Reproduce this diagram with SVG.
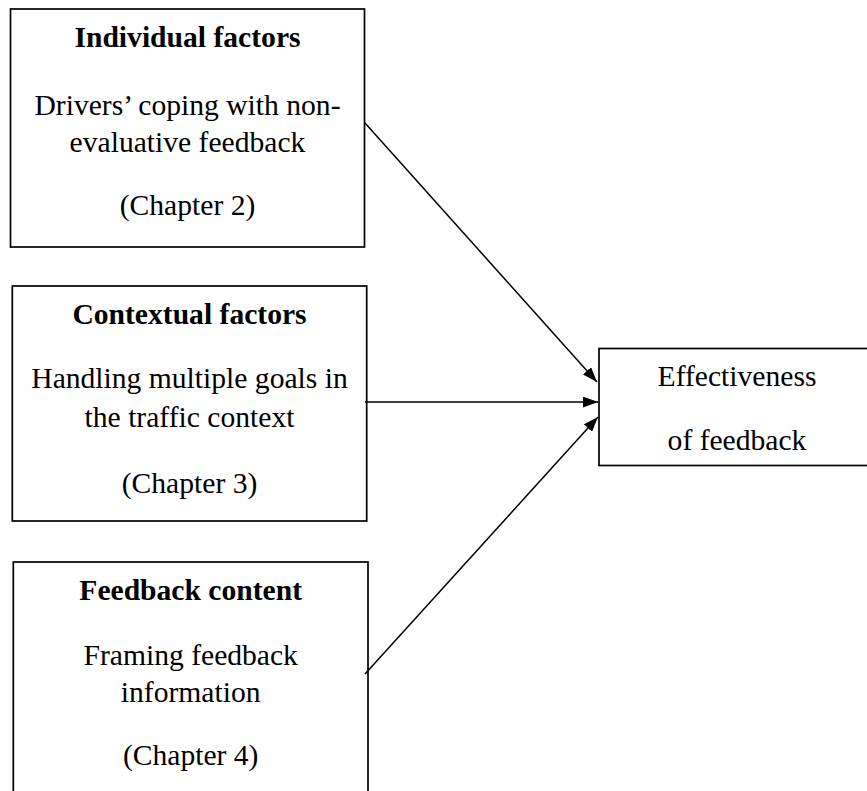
<svg xmlns="http://www.w3.org/2000/svg" width="867" height="791" viewBox="0 0 867 791">
<style>
.box{fill:#fff;stroke:#000;stroke-width:1.7}
.t{font-family:"Liberation Serif","Times New Roman",serif;font-size:29.6px;fill:#000;text-anchor:middle}
.b{font-weight:bold}
.c{stroke:#000;stroke-width:1.5;fill:none}
</style>
<defs>
<marker id="ah" viewBox="0 0 15 11" refX="15" refY="5.5" markerWidth="15" markerHeight="11" markerUnits="userSpaceOnUse" orient="auto">
<path d="M0,0 L15,5.5 L0,11 Z" fill="#000"/>
</marker>
</defs>
<rect width="867" height="791" fill="#fff"/>
<g id="n1">
<rect class="box" x="10.5" y="9" width="354" height="238"/>
<text class="t b" x="187.5" y="47">Individual factors</text>
<text class="t" x="187.5" y="115">Drivers’ coping with non-</text>
<text class="t" x="187.5" y="152">evaluative feedback</text>
<text class="t" x="187.5" y="215">(Chapter 2)</text>
</g>
<g id="n2">
<rect class="box" x="12.3" y="286" width="354.4" height="235"/>
<text class="t b" x="189.5" y="324">Contextual factors</text>
<text class="t" x="189.5" y="388">Handling multiple goals in</text>
<text class="t" x="189.5" y="427">the traffic context</text>
<text class="t" x="189.5" y="493">(Chapter 3)</text>
</g>
<g id="n3">
<rect class="box" x="13.3" y="562" width="354.7" height="240"/>
<text class="t b" x="190.7" y="600">Feedback content</text>
<text class="t" x="190.7" y="665">Framing feedback</text>
<text class="t" x="190.7" y="702">information</text>
<text class="t" x="190.7" y="765">(Chapter 4)</text>
</g>
<g id="n4">
<rect class="box" x="599" y="348.5" width="272" height="117"/>
<text class="t" x="737" y="386">Effectiveness</text>
<text class="t" x="737" y="450">of feedback</text>
</g>
<g id="connectors">
<line class="c" x1="365" y1="123" x2="597" y2="382" marker-end="url(#ah)"/>
<line class="c" x1="365" y1="402" x2="598" y2="402" marker-end="url(#ah)"/>
<line class="c" x1="365" y1="674" x2="598" y2="417" marker-end="url(#ah)"/>
</g>
</svg>
